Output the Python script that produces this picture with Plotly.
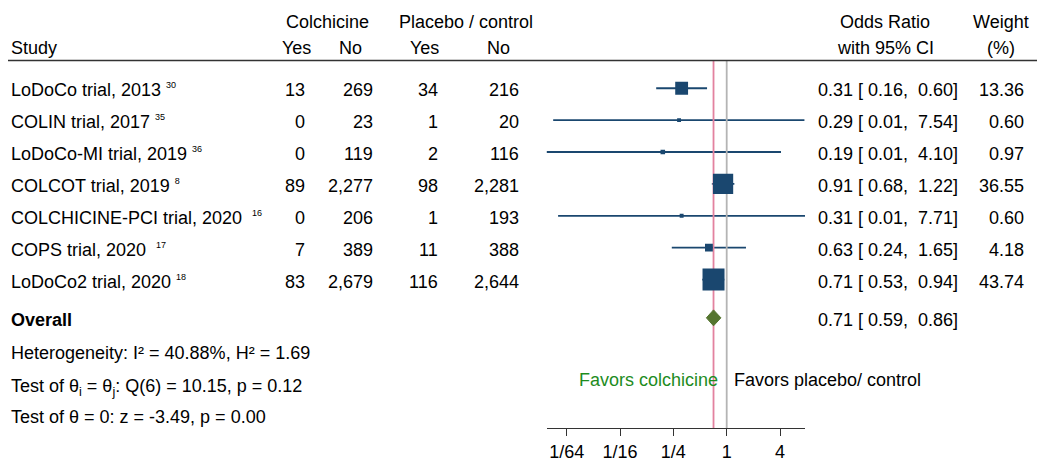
import numpy as np
import plotly.graph_objects as go

# ---------------- data ----------------
studies = ["LoDoCo trial, 2013", "COLIN trial, 2017", "LoDoCo-MI trial, 2019",
           "COLCOT trial, 2019", "COLCHICINE-PCI trial, 2020", "COPS trial, 2020",
           "LoDoCo2 trial, 2020"]
refs = ["30", "35", "36", "8", "16", "17", "18"]
ref_gap = [1, 1, 1, 1, 2, 2, 1]
colch_yes = [13, 0, 0, 89, 0, 7, 83]
colch_no = [269, 23, 119, 2277, 206, 389, 2679]
plac_yes = [34, 1, 2, 98, 1, 11, 116]
plac_no = [216, 20, 116, 2281, 193, 388, 2644]
odds_ratio = [0.31, 0.29, 0.19, 0.91, 0.31, 0.63, 0.71]
ci_low = [0.16, 0.011, 0.0092, 0.68, 0.0125, 0.24, 0.53]
ci_high = [0.60, 7.54, 4.10, 1.22, 7.71, 1.65, 0.94]
weight = [13.36, 0.60, 0.97, 36.55, 0.60, 4.18, 43.74]
overall_or = 0.71
overall_low = 0.59
overall_high = 0.86
tick_vals = [1/64, 1/16, 1/4, 1, 4]
tick_text = ["1/64", "1/16", "1/4", "1", "4"]
stats_lines = ["Heterogeneity: I\u00b2 = 40.88%, H\u00b2 = 1.69",
               "Test of \u03b8<sub>i</sub> = \u03b8<sub>j</sub>: Q(6) = 10.15, p = 0.12",
               "Test of \u03b8 = 0: z = -3.49, p = 0.00"]
stats_shift = [-1, -4, -1]

# ---------------- layout helpers ----------------
W, H = 1037, 462
FONT = "Liberation Sans, Arial, Helvetica, sans-serif"
FS = 18
NAVY = "#1a476f"
rows = list(range(len(studies)))
overall_row = len(studies) + 0.2
stats_rows = [overall_row + 1 + i for i in range(len(stats_lines))]
hdr1, hdr2, rule_y = -2.145, -1.337, -0.87
y_top, y_bot = -2.767, 10.662
favor_row = 9.05
YS = -2
LX = 9

def px(x):
    return x / W

ann = []
def text(x, y, s, anchor="left", color="black", size=FS, ys=YS):
    ann.append(dict(x=px(x), xref="paper", y=y, yref="y", text=s, showarrow=False,
                    xanchor=anchor, yanchor="middle", yshift=ys,
                    font=dict(family=FONT, size=size, color=color)))

nb = "\u00a0"
# headers
text(327, hdr1, "Colchicine", "center")
text(466, hdr1, "Placebo / control", "center")
text(885, hdr1, "Odds Ratio", "center")
text(1001, hdr1, "Weight", "center")
text(LX, hdr2, "Study", "left")
text(296, hdr2, "Yes", "center")
text(350, hdr2, "No", "center")
text(424, hdr2, "Yes", "center")
text(498, hdr2, "No", "center")
text(885, hdr2, "with 95% CI", "center")
text(1001, hdr2, "(%)", "center")

for i, r in enumerate(rows):
    text(LX, r, studies[i] + nb * ref_gap[i] +
         f"<sup><span style='font-size:9px'>{refs[i]}</span></sup>", "left")
    text(307, r, f"{colch_yes[i]:,}", "right")
    text(375, r, f"{colch_no[i]:,}", "right")
    text(440, r, f"{plac_yes[i]:,}", "right")
    text(521, r, f"{plac_no[i]:,}", "right")
    text(960, r, f"{odds_ratio[i]:.2f} [{nb}{ci_low[i]:.2f},{nb}{nb}{ci_high[i]:.2f}]", "right")
    text(1026, r, f"{weight[i]:.2f}", "right")

text(LX, overall_row, "<b>Overall</b>", "left")
text(960, overall_row, f"{overall_or:.2f} [{nb}{overall_low:.2f},{nb}{nb}{overall_high:.2f}]", "right")
for s, r, sh in zip(stats_lines, stats_rows, stats_shift):
    text(LX, r, s, "left", ys=YS + sh)
text(720, favor_row, "Favors colchicine", "right", color="#1e8c1e", ys=-3)
text(732, favor_row, "Favors placebo/ control", "left", ys=-3)

fig = go.Figure()
# CI lines
cx, cy = [], []
for i, r in enumerate(rows):
    cx += [ci_low[i], ci_high[i], None]
    cy += [r, r, None]
fig.add_trace(go.Scatter(x=cx, y=cy, mode="lines", line=dict(color=NAVY, width=1.8),
                         hoverinfo="skip", showlegend=False))
# reference lines
fig.add_trace(go.Scatter(x=[1, 1], y=[rule_y, y_bot], mode="lines",
                         line=dict(color="#b4b4b4", width=1.8), showlegend=False))
fig.add_trace(go.Scatter(x=[overall_or, overall_or], y=[rule_y, y_bot], mode="lines",
                         line=dict(color="#e3829f", width=1.8), showlegend=False))
# squares
sizes = [3.1 * np.sqrt(w) + 1.5 for w in weight]
fig.add_trace(go.Scatter(x=odds_ratio, y=rows, mode="markers",
                         marker=dict(symbol="square", size=sizes, color=NAVY, opacity=1,
                                     line=dict(width=0)), showlegend=False))
# overall diamond
dh = 0.25
fig.add_trace(go.Scatter(x=[overall_low, overall_or, overall_high, overall_or, overall_low],
                         y=[overall_row, overall_row - dh, overall_row, overall_row + dh, overall_row],
                         mode="lines", fill="toself", fillcolor="#55752f",
                         line=dict(color="#55752f", width=1), showlegend=False))

# axis geometry
x_left_px, x_right_px, one_px, unit_px = 546.7, 805.0, 726.7, 26.67
l2min = (x_left_px - one_px) / unit_px
l2max = (x_right_px - one_px) / unit_px
fig.update_layout(
    width=W, height=H, autosize=False,
    margin=dict(l=0, r=0, t=0, b=0),
    paper_bgcolor="white", plot_bgcolor="white",
    annotations=ann,
    shapes=[dict(type="line", xref="paper", yref="paper", x0=px(8), x1=1,
                 y0=1 - 61 / H, y1=1 - 61 / H, line=dict(color="#333333", width=1.6))],
    xaxis=dict(type="log", domain=[px(x_left_px), px(x_right_px)],
               range=[l2min * np.log10(2), l2max * np.log10(2)],
               tickvals=tick_vals, ticktext=tick_text, ticks="outside", ticklen=7,
               tickcolor="#333333", tickwidth=1, showline=True, linecolor="#333333",
               linewidth=1, showgrid=False, zeroline=False,
               tickfont=dict(family=FONT, size=FS, color="black")),
    yaxis=dict(domain=[1 - 432 / H, 1], range=[y_bot, y_top], visible=False,
               showgrid=False, zeroline=False),
)
fig.write_html("out.html")
